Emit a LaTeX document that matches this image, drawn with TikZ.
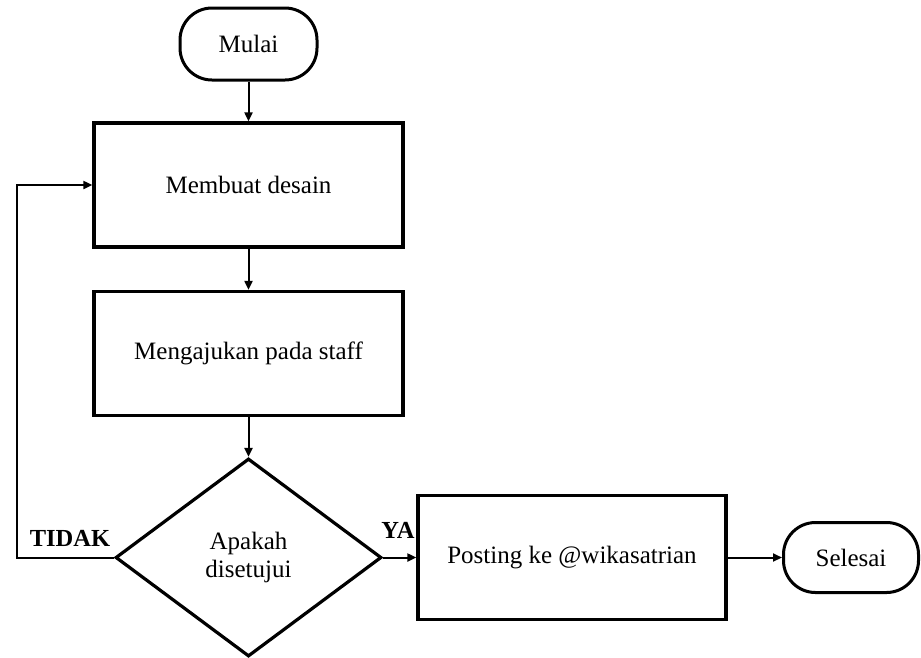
\documentclass[tikz,border=0pt]{standalone}
\usepackage{fontspec}
\setmainfont{Liberation Serif}
\usetikzlibrary{shapes.geometric,arrows.meta}
\begin{document}
\begin{tikzpicture}[x=1pt,y=-1pt,
  every node/.style={font=\fontsize{25}{28}\selectfont},
  procbox/.style={draw,line width=3.3pt,minimum width=309pt,minimum height=124pt,inner sep=0pt},
  termbox/.style={draw,line width=3pt,rounded corners=32pt,inner sep=0pt},
  decision/.style={draw,line width=3.2pt,diamond,minimum width=266pt,minimum height=198pt,inner sep=0pt,align=center},
  flow/.style={line width=2pt,-{Triangle[length=9pt,width=8pt]}},
  tag/.style={font=\fontsize{24.5}{28}\selectfont\bfseries}]
\useasboundingbox (0,0) rectangle (921,657);
% start / end terminals
\node[termbox,minimum width=137pt,minimum height=72pt] (start) at (248.5,44) {Mulai};
\node[termbox,minimum width=135pt,minimum height=70pt] (stop) at (851,557.5) {Selesai};
% process steps
\node[procbox] (design) at (248.5,185) {Membuat desain};
\node[procbox] (submit) at (248.5,353.5) {Mengajukan pada staff};
\node[decision] (check) at (248.5,557.5) {Apakah\\[0pt]disetujui};
\node[procbox,minimum width=308pt] (post) at (572,557.5) {Posting ke @wikasatrian};
% loop-back corner
\coordinate (loopcorner) at (17,557.5);
% connectors
\draw[flow] (start.south) -- (design.north);
\draw[flow] (design.south) -- (submit.north);
\draw[flow] (submit.south) -- (check.north);
\draw[flow] (check.east) -- (post.west);
\draw[flow] (post.east) -- (stop.west);
\draw[flow] (check.west) -- (loopcorner) |- (design.west);
% branch labels
\node[tag] (no) at (70,538) {TIDAK};
\node[tag] (yes) at (398,530) {YA};
\end{tikzpicture}
\end{document}
